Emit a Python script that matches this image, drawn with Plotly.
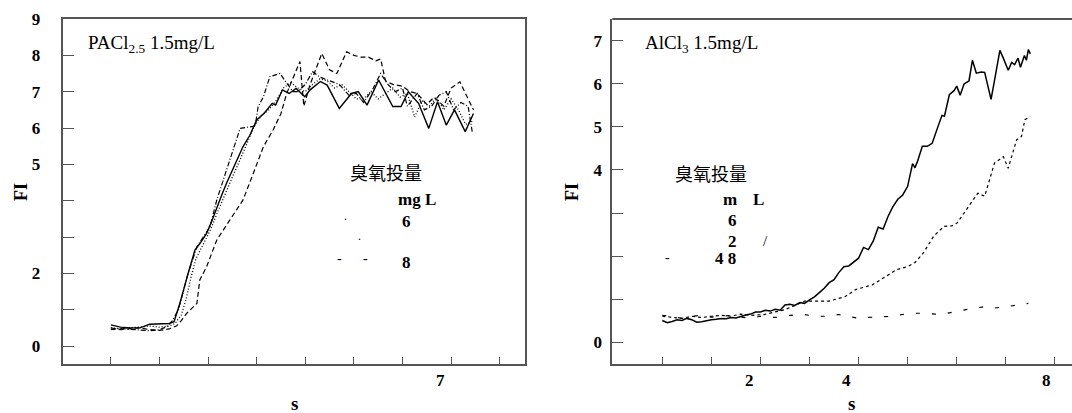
import plotly.graph_objects as go

W, H = 1072, 413

# ---------------- Left panel data (PACl2.5 1.5mg/L) ----------------
solid_L_x = [0, 0.2, 0.4, 0.6, 0.8, 1.0, 1.2, 1.3, 1.42, 1.59, 1.73, 1.85, 1.97, 2.08, 2.18, 2.28, 2.38, 2.55,
             2.72, 2.86, 3.0, 3.15, 3.32, 3.39, 3.53, 3.67, 3.81, 3.99, 4.1, 4.31, 4.45, 4.7, 4.95, 5.09, 5.27,
             5.51, 5.8, 5.97, 6.12, 6.33, 6.54, 6.72, 6.9, 7.07, 7.29, 7.46]
solid_L_y = [0.58, 0.52, 0.5, 0.5, 0.6, 0.62, 0.62, 0.67, 1.17, 2.0, 2.64, 2.85, 3.1, 3.45, 3.83, 4.15, 4.48, 5.0,
             5.49, 5.8, 6.22, 6.4, 6.68, 6.63, 7.05, 6.95, 7.09, 6.86, 7.05, 7.28, 7.18, 6.54, 6.95, 7.0, 6.63,
             7.32, 6.59, 6.59, 7.0, 6.68, 5.99, 6.72, 6.08, 6.5, 5.9, 6.4]

dashdot_L_x = [0, 0.2, 0.4, 0.6, 0.8, 1.0, 1.15, 1.27, 1.39, 1.59, 1.77, 1.9, 2.04, 2.18, 2.38, 2.52, 2.66, 2.8,
               2.97, 3.03, 3.14, 3.27, 3.48, 3.62, 3.75, 3.85, 4.0, 4.15, 4.3, 4.5, 4.7, 4.9, 5.05, 5.2, 5.4,
               5.55, 5.7, 5.85, 6.0, 6.1, 6.3, 6.45, 6.6, 6.75, 6.9, 7.05, 7.2, 7.35, 7.44]
dashdot_L_y = [0.45, 0.48, 0.46, 0.44, 0.42, 0.45, 0.53, 0.7, 1.0, 2.0, 2.73, 3.0, 3.28, 4.02, 4.84, 5.45, 5.99,
               6.02, 6.05, 6.59, 6.86, 7.41, 7.5, 7.23, 7.0, 7.0, 7.2, 7.55, 7.4, 7.3, 7.2, 6.9, 6.95, 6.7, 7.1,
               7.5, 7.2, 7.0, 7.1, 6.6, 6.95, 6.5, 6.6, 6.9, 7.0, 6.5, 6.7, 6.6, 5.85]

dotted_L_x = [0, 0.2, 0.4, 0.6, 0.8, 1.0, 1.2, 1.32, 1.45, 1.55, 1.65, 1.75, 1.9, 2.05, 2.2, 2.35, 2.5, 2.65,
              2.8, 2.95, 3.1, 3.25, 3.4, 3.55, 3.7, 3.85, 4.0, 4.15, 4.3, 4.45, 4.6, 4.75, 4.9, 5.05, 5.2, 5.35,
              5.5, 5.65, 5.8, 5.95, 6.1, 6.25, 6.4, 6.55, 6.7, 6.85, 7.0, 7.15, 7.3, 7.46]
dotted_L_y = [0.5, 0.48, 0.5, 0.52, 0.55, 0.52, 0.55, 0.62, 0.85, 1.3, 1.9, 2.4, 2.8, 3.2, 3.7, 4.2, 4.65, 5.1,
              5.6, 6.05, 6.35, 6.5, 6.75, 7.1, 7.25, 7.1, 7.0, 7.2, 7.35, 7.3, 7.1, 7.2, 7.0, 6.8, 6.8, 7.0,
              6.8, 6.95, 7.1, 6.85, 6.95, 6.3, 6.75, 6.6, 6.85, 6.5, 6.8, 6.5, 6.1, 6.2]

dashed_L_x = [0, 0.2, 0.4, 0.6, 0.8, 1.0, 1.2, 1.35, 1.45, 1.56, 1.77, 1.83, 1.97, 2.18, 2.45, 2.72, 2.93, 3.14,
              3.34, 3.5, 3.62, 3.75, 3.89, 3.97, 4.1, 4.34, 4.5, 4.65, 4.85, 5.0, 5.15, 5.3, 5.45, 5.55, 5.65,
              5.8, 6.0, 6.15, 6.3, 6.5, 6.65, 6.85, 7.0, 7.18, 7.35, 7.46]
dashed_L_y = [0.5, 0.45, 0.48, 0.5, 0.45, 0.43, 0.47, 0.55, 0.7, 0.9, 1.17, 1.82, 2.18, 2.92, 3.47, 4.02, 4.75,
              5.49, 5.95, 6.4, 6.96, 7.4, 7.83, 6.6, 7.2, 8.05, 7.6, 7.5, 8.1, 8.0, 7.95, 7.95, 7.85, 7.9, 7.3,
              7.2, 7.15, 7.0, 6.95, 6.65, 6.85, 6.6, 7.1, 7.27, 6.8, 6.5]

# ---------------- Right panel data (AlCl3 1.5mg/L) ----------------
solid_R_x = [0, 0.1, 0.2, 0.3, 0.4, 0.5, 0.6, 0.7, 0.8, 0.9, 1.0, 1.1, 1.2, 1.3, 1.4, 1.5, 1.6, 1.7, 1.8, 1.9,
             2.0, 2.1, 2.2, 2.3, 2.4, 2.5, 2.6, 2.7, 2.8, 2.9, 3.0, 3.1, 3.2, 3.3, 3.4, 3.5, 3.6, 3.7, 3.8, 3.9,
             4.0, 4.1, 4.2, 4.3, 4.4, 4.5, 4.6, 4.7, 4.8, 4.9, 5.0, 5.1, 5.15, 5.2, 5.3, 5.4, 5.5, 5.6, 5.7,
             5.75, 5.85, 5.95, 6.0, 6.07, 6.15, 6.25, 6.32, 6.4, 6.5, 6.57, 6.63, 6.7, 6.77, 6.88, 6.95, 7.05,
             7.12, 7.18, 7.25, 7.3, 7.38, 7.42, 7.46, 7.5]
solid_R_y = [0.5, 0.45, 0.48, 0.52, 0.5, 0.55, 0.52, 0.46, 0.47, 0.5, 0.52, 0.53, 0.55, 0.54, 0.57, 0.56, 0.6,
             0.63, 0.65, 0.7, 0.7, 0.74, 0.72, 0.76, 0.74, 0.86, 0.88, 0.85, 0.92, 0.9, 0.98, 1.05, 1.15, 1.25,
             1.38, 1.45, 1.62, 1.75, 1.77, 1.87, 1.95, 2.2, 2.15, 2.35, 2.67, 2.63, 2.92, 3.15, 3.32, 3.42, 3.62,
             4.15, 4.05, 4.2, 4.55, 4.55, 4.62, 4.95, 5.27, 5.25, 5.75, 5.85, 5.95, 5.74, 6.0, 6.07, 6.55, 6.25,
             6.28, 6.27, 6.0, 5.64, 6.08, 6.78, 6.6, 6.32, 6.5, 6.45, 6.6, 6.39, 6.66, 6.55, 6.8, 6.7]

mid_R_x = [0, 0.2, 0.4, 0.6, 0.8, 1.0, 1.2, 1.4, 1.6, 1.8, 2.07, 2.3, 2.49, 2.7, 2.9, 3.1, 3.39, 3.55, 3.73,
           3.94, 4.1, 4.28, 4.45, 4.56, 4.77, 5.01, 5.15, 5.32, 5.53, 5.74, 5.9, 6.01, 6.22, 6.43, 6.57, 6.77,
           6.95, 7.05, 7.22, 7.32, 7.39, 7.5]
mid_R_y = [0.6, 0.58, 0.55, 0.6, 0.57, 0.6, 0.62, 0.6, 0.65, 0.62, 0.64, 0.7, 0.75, 0.85, 0.95, 0.95, 0.95, 1.0,
           1.06, 1.22, 1.28, 1.33, 1.45, 1.53, 1.68, 1.76, 1.85, 2.07, 2.46, 2.69, 2.7, 2.77, 3.11, 3.46, 3.39,
           4.16, 4.31, 4.04, 4.7, 4.78, 5.17, 5.24]

low_R_x = [0, 0.2, 0.4, 0.6, 0.8, 1.0, 1.2, 1.4, 1.6, 1.8, 2.0, 2.2, 2.4, 2.6, 2.9, 3.1, 3.39, 3.6, 3.97, 4.3,
           4.7, 5.04, 5.36, 5.67, 6.0, 6.3, 6.63, 6.77, 7.05, 7.26, 7.46]
low_R_y = [0.62, 0.6, 0.55, 0.6, 0.62, 0.58, 0.6, 0.62, 0.58, 0.55, 0.6, 0.57, 0.58, 0.62, 0.64, 0.6, 0.6, 0.64,
           0.56, 0.58, 0.6, 0.67, 0.67, 0.64, 0.72, 0.78, 0.83, 0.79, 0.83, 0.87, 0.9]

# ticks
x_ticks = list(range(0, 9))
y_ticks_L = list(range(0, 10))
y_text_L = ["0", "", "2", "", "", "5", "6", "7", "8", "9"]
y_ticks_R = list(range(0, 8))
y_text_R = ["0", "", "", "", "4", "5", "6", "7"]
x_lab_L_vals, x_lab_L_text = [6.79], ["7"]
x_lab_R_vals, x_lab_R_text = [1.78, 3.76, 7.83], ["2", "4", "8"]

SERIF = "Liberation Serif, Times New Roman, Noto Sans CJK SC, serif"
AX = "#555555"


def P(px, py):
    return px / W, 1 - py / H


fig = go.Figure()

def add_line(x, y, dash, xa, ya, width=1.3):
    fig.add_trace(go.Scatter(x=x, y=y, mode="lines", xaxis=xa, yaxis=ya, showlegend=False,
                             line=dict(color="black", width=width, dash=dash), hoverinfo="skip"))

add_line(dashed_L_x, dashed_L_y, "5px,3px", "x", "y", 1.2)
add_line(dotted_L_x, dotted_L_y, "1px,2px", "x", "y", 1.3)
add_line(dashdot_L_x, dashdot_L_y, "5px,2px,1px,2px", "x", "y", 1.2)
add_line(solid_L_x, solid_L_y, "solid", "x", "y", 1.4)

add_line(low_R_x, low_R_y, "4px,12px", "x2", "y2", 1.2)
add_line(mid_R_x, mid_R_y, "3px,3px", "x2", "y2", 1.2)
add_line(solid_R_x, solid_R_y, "solid", "x2", "y2", 1.5)

ydom = [1 - 364 / H, 1 - 19 / H]
common_x = dict(showgrid=False, zeroline=False, showline=True, linecolor=AX, linewidth=2,
                ticks="inside", ticklen=7, tickwidth=1.3, tickcolor=AX, tickvals=x_ticks,
                ticktext=[""] * len(x_ticks), automargin=False)
common_y = dict(showgrid=False, zeroline=False, showline=True, linecolor=AX, linewidth=2,
                ticks="inside", ticklen=11, tickwidth=1.3, tickcolor=AX, automargin=False,
                tickfont=dict(family=SERIF, size=17, color="black", weight="bold"))

fig.update_layout(
    width=W, height=H, margin=dict(l=0, r=0, t=0, b=0, autoexpand=False),
    paper_bgcolor="white", plot_bgcolor="white",
    xaxis=dict(domain=[62.7 / W, 525 / W], range=[-0.99, 8.52], anchor="y", mirror=True, **common_x),
    yaxis=dict(domain=ydom, range=[-0.495, 9.0], anchor="x", mirror=True, tickvals=y_ticks_L,
               ticktext=y_text_L, ticklabelstandoff=17, **common_y),
    xaxis2=dict(domain=[612.3 / W, 1.0], range=[-1.02, 8.35], anchor="y2", **common_x),
    yaxis2=dict(domain=ydom, range=[-0.51, 7.51], anchor="x2", tickvals=y_ticks_R,
                ticktext=y_text_R, ticklabelstandoff=5, **common_y),
)

# top border of right panel (right side is cut off in the reference)
fig.add_shape(type="line", xref="x2 domain", yref="y2 domain", x0=0, x1=1, y0=1, y1=1,
              line=dict(color=AX, width=2))

ann = []

def text(px, py, s, size=17, bold=False, angle=0, xanchor="center"):
    x, y = P(px, py)
    ann.append(dict(x=x, y=y, xref="paper", yref="paper", text=s, showarrow=False, textangle=angle,
                    xanchor=xanchor, yanchor="middle",
                    font=dict(family=SERIF, size=size, color="black", weight="bold" if bold else "normal")))

# x tick labels (data positions)
for v, t in zip(x_lab_L_vals, x_lab_L_text):
    ann.append(dict(x=v, y=P(0, 380)[1], xref="x", yref="paper", text=t, showarrow=False,
                    xanchor="center", yanchor="middle",
                    font=dict(family=SERIF, size=17, color="black", weight="bold")))
for v, t in zip(x_lab_R_vals, x_lab_R_text):
    ann.append(dict(x=v, y=P(0, 380)[1], xref="x2", yref="paper", text=t, showarrow=False,
                    xanchor="center", yanchor="middle",
                    font=dict(family=SERIF, size=17, color="black", weight="bold")))

# axis titles
text(21, 192, "FI", 18, True, -90)
text(294, 403, "s", 19, True)
text(572, 192, "FI", 18, True, -90)
text(851.5, 403, "s", 19, True)

# panel titles
text(86, 44, "PACl<sub>2.5</sub> 1.5mg/L", 19, False, xanchor="left")
text(643, 44, "AlCl<sub>3</sub> 1.5mg/L", 19, False, xanchor="left")

# left legend remnants
text(386, 174, "臭氧投量", 18)
text(417, 200, "mg L", 17, True)
text(345, 216, ".", 12)
text(406, 222, "6", 17, True)
text(359, 236, ".", 12)
text(339, 258, "-", 14)
text(365, 258, "-", 14)
text(406, 262, "8", 17, True)

# right legend remnants
text(711, 175, "臭氧投量", 18)
text(730, 200, "m", 17, True)
text(758, 200, "L", 17, True)
text(732, 220, "6", 17, True)
text(732, 241, "2", 17, True)
text(765, 241, "/", 15)
text(667, 257, "-", 14)
text(725, 258, "4 8", 17, True)

fig.update_layout(annotations=ann)
fig.write_html("out.html", config={"displayModeBar": False},
               post_script="document.body.style.margin='0';document.body.style.padding='0';"
                           "document.body.style.overflow='hidden';")
